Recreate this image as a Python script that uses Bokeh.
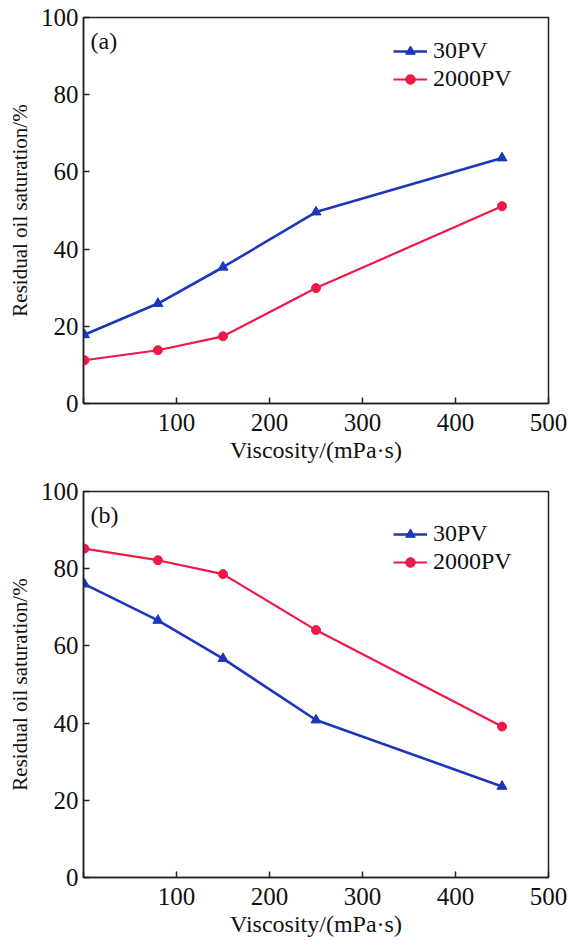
from bokeh.plotting import figure
from bokeh.layouts import column
from bokeh.models import Range1d, FixedTicker, Legend, LegendItem, Label
from bokeh.embed import file_html
from bokeh.resources import INLINE

# ---- data ----
viscosity = [1, 80, 150, 250, 450]
a_30pv = [17.8, 25.9, 35.3, 49.6, 63.6]
a_2000pv = [11.2, 13.8, 17.4, 29.9, 51.1]
b_30pv = [76.0, 66.6, 56.7, 40.8, 23.6]
b_2000pv = [85.2, 82.2, 78.6, 64.1, 39.1]
x_ticks = [0, 100, 200, 300, 400, 500]
y_ticks = [0, 20, 40, 60, 80, 100]
series_names = ["30PV", "2000PV"]

BLUE = "#1c37b9"
RED = "#f01848"
FONT = "Liberation Serif"
FH = 386


def make_panel(tag, s30, s2000, top_border, legend_loc):
    p = figure(width=568, height=470, output_backend="svg", toolbar_location=None,
               x_range=Range1d(0, 500), y_range=Range1d(0, 100),
               min_border_left=83, min_border_right=20,
               min_border_top=top_border, min_border_bottom=470 - top_border - FH,
               frame_width=465, frame_height=FH)
    p.grid.visible = False
    p.outline_line_color = "#222222"
    p.outline_line_width = 1.5
    p.background_fill_color = "white"
    p.border_fill_color = "white"

    for ax in (p.xaxis[0], p.yaxis[0]):
        ax.major_tick_in = 6
        ax.major_tick_out = 0
        ax.minor_tick_in = 0
        ax.minor_tick_out = 0
        ax.axis_line_color = "#222222"
        ax.axis_line_width = 1.5
        ax.major_tick_line_color = "#222222"
        ax.major_tick_line_width = 1.5
        ax.major_label_text_font = FONT
        ax.major_label_text_font_size = "25px"
        ax.major_label_text_color = "#111111"
        ax.axis_label_text_font = FONT
        ax.axis_label_text_font_style = "normal"
        ax.axis_label_text_color = "#111111"

    p.xaxis.ticker = FixedTicker(ticks=x_ticks)
    p.xaxis.major_label_overrides = {0: ""}
    p.xaxis.major_label_standoff = 10
    p.xaxis.axis_label = "Viscosity/(mPa\u00b7s)"
    p.xaxis.axis_label_text_font_size = "24px"
    p.xaxis.axis_label_standoff = 3
    p.yaxis.ticker = FixedTicker(ticks=y_ticks)
    p.yaxis.major_label_standoff = 5
    p.yaxis.axis_label = "Residual oil saturation/%"
    p.yaxis.axis_label_text_font_size = "21px"
    p.yaxis.axis_label_standoff = 6

    l1 = p.line(viscosity, s30, line_color=BLUE, line_width=2.6)
    m1 = p.scatter(viscosity, s30, marker="triangle", size=10, color=BLUE)
    l2 = p.line(viscosity, s2000, line_color=RED, line_width=2.2)
    m2 = p.scatter(viscosity, s2000, marker="circle", size=9, color=RED)

    legend = Legend(items=[LegendItem(label=series_names[0], renderers=[l1, m1]),
                           LegendItem(label=series_names[1], renderers=[l2, m2])],
                    location=legend_loc, padding=0, margin=0, spacing=1,
                    glyph_width=34, glyph_height=24, label_height=24, label_standoff=6,
                    label_text_font=FONT, label_text_font_size="24px",
                    label_text_color="#111111",
                    border_line_color=None, background_fill_alpha=0)
    p.add_layout(legend)

    lab = Label(x=7, y=FH - 10, x_units="screen", y_units="screen", text=tag,
                text_font=FONT, text_font_size="24px", text_color="#111111",
                text_baseline="top")
    p.add_layout(lab)
    return p


pa = make_panel("(a)", a_30pv, a_2000pv, 17, (310, 311))
pb = make_panel("(b)", b_30pv, b_2000pv, 21, (310, 302))

layout = column(pa, pb, spacing=0)
open("out.html", "w").write(file_html(layout, INLINE))
